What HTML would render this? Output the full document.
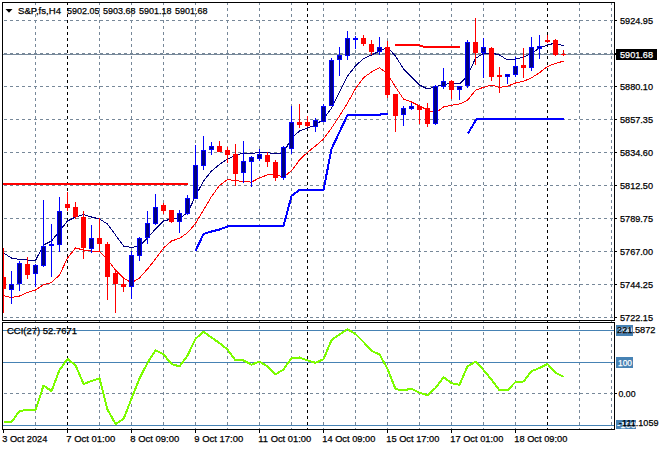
<!DOCTYPE html>
<html><head><meta charset="utf-8"><style>
html,body{margin:0;padding:0;background:#fff;width:660px;height:450px;overflow:hidden}
</style></head><body>
<svg width="660" height="450" viewBox="0 0 660 450" style="display:block">
<rect x="0" y="0" width="660" height="450" fill="#fff"/>
<line x1="4" y1="20.5" x2="614" y2="20.5" stroke="#778899" stroke-width="1" stroke-dasharray="3 3"/>
<line x1="4" y1="53.5" x2="614" y2="53.5" stroke="#778899" stroke-width="1" stroke-dasharray="3 3"/>
<line x1="4" y1="86.5" x2="614" y2="86.5" stroke="#778899" stroke-width="1" stroke-dasharray="3 3"/>
<line x1="4" y1="119.5" x2="614" y2="119.5" stroke="#778899" stroke-width="1" stroke-dasharray="3 3"/>
<line x1="4" y1="152.5" x2="614" y2="152.5" stroke="#778899" stroke-width="1" stroke-dasharray="3 3"/>
<line x1="4" y1="185.5" x2="614" y2="185.5" stroke="#778899" stroke-width="1" stroke-dasharray="3 3"/>
<line x1="4" y1="218.5" x2="614" y2="218.5" stroke="#778899" stroke-width="1" stroke-dasharray="3 3"/>
<line x1="4" y1="251.5" x2="614" y2="251.5" stroke="#778899" stroke-width="1" stroke-dasharray="3 3"/>
<line x1="4" y1="284.5" x2="614" y2="284.5" stroke="#778899" stroke-width="1" stroke-dasharray="3 3"/>
<line x1="4" y1="317.5" x2="614" y2="317.5" stroke="#778899" stroke-width="1" stroke-dasharray="3 3"/>
<line x1="35.5" y1="2" x2="35.5" y2="322" stroke="#778899" stroke-width="1" stroke-dasharray="3 3"/>
<line x1="99.5" y1="2" x2="99.5" y2="322" stroke="#778899" stroke-width="1" stroke-dasharray="3 3"/>
<line x1="131.5" y1="2" x2="131.5" y2="322" stroke="#778899" stroke-width="1" stroke-dasharray="3 3"/>
<line x1="163.5" y1="2" x2="163.5" y2="322" stroke="#778899" stroke-width="1" stroke-dasharray="3 3"/>
<line x1="195.5" y1="2" x2="195.5" y2="322" stroke="#778899" stroke-width="1" stroke-dasharray="3 3"/>
<line x1="227.5" y1="2" x2="227.5" y2="322" stroke="#778899" stroke-width="1" stroke-dasharray="3 3"/>
<line x1="259.5" y1="2" x2="259.5" y2="322" stroke="#778899" stroke-width="1" stroke-dasharray="3 3"/>
<line x1="291.5" y1="2" x2="291.5" y2="322" stroke="#778899" stroke-width="1" stroke-dasharray="3 3"/>
<line x1="323.5" y1="2" x2="323.5" y2="322" stroke="#778899" stroke-width="1" stroke-dasharray="3 3"/>
<line x1="355.5" y1="2" x2="355.5" y2="322" stroke="#778899" stroke-width="1" stroke-dasharray="3 3"/>
<line x1="387.5" y1="2" x2="387.5" y2="322" stroke="#778899" stroke-width="1" stroke-dasharray="3 3"/>
<line x1="419.5" y1="2" x2="419.5" y2="322" stroke="#778899" stroke-width="1" stroke-dasharray="3 3"/>
<line x1="451.5" y1="2" x2="451.5" y2="322" stroke="#778899" stroke-width="1" stroke-dasharray="3 3"/>
<line x1="483.5" y1="2" x2="483.5" y2="322" stroke="#778899" stroke-width="1" stroke-dasharray="3 3"/>
<line x1="515.5" y1="2" x2="515.5" y2="322" stroke="#778899" stroke-width="1" stroke-dasharray="3 3"/>
<line x1="579.5" y1="2" x2="579.5" y2="322" stroke="#778899" stroke-width="1" stroke-dasharray="3 3"/>
<line x1="611.5" y1="2" x2="611.5" y2="322" stroke="#778899" stroke-width="1" stroke-dasharray="3 3"/>
<line x1="67.5" y1="2" x2="67.5" y2="322" stroke="#000" stroke-width="1" stroke-dasharray="3 3"/>
<line x1="307.5" y1="2" x2="307.5" y2="322" stroke="#000" stroke-width="1" stroke-dasharray="3 3"/>
<line x1="547.5" y1="2" x2="547.5" y2="322" stroke="#000" stroke-width="1" stroke-dasharray="3 3"/>
<line x1="4" y1="393.5" x2="614" y2="393.5" stroke="#778899" stroke-width="1" stroke-dasharray="3 3"/>
<line x1="35.5" y1="326" x2="35.5" y2="429" stroke="#778899" stroke-width="1" stroke-dasharray="3 3"/>
<line x1="99.5" y1="326" x2="99.5" y2="429" stroke="#778899" stroke-width="1" stroke-dasharray="3 3"/>
<line x1="131.5" y1="326" x2="131.5" y2="429" stroke="#778899" stroke-width="1" stroke-dasharray="3 3"/>
<line x1="163.5" y1="326" x2="163.5" y2="429" stroke="#778899" stroke-width="1" stroke-dasharray="3 3"/>
<line x1="195.5" y1="326" x2="195.5" y2="429" stroke="#778899" stroke-width="1" stroke-dasharray="3 3"/>
<line x1="227.5" y1="326" x2="227.5" y2="429" stroke="#778899" stroke-width="1" stroke-dasharray="3 3"/>
<line x1="259.5" y1="326" x2="259.5" y2="429" stroke="#778899" stroke-width="1" stroke-dasharray="3 3"/>
<line x1="291.5" y1="326" x2="291.5" y2="429" stroke="#778899" stroke-width="1" stroke-dasharray="3 3"/>
<line x1="323.5" y1="326" x2="323.5" y2="429" stroke="#778899" stroke-width="1" stroke-dasharray="3 3"/>
<line x1="355.5" y1="326" x2="355.5" y2="429" stroke="#778899" stroke-width="1" stroke-dasharray="3 3"/>
<line x1="387.5" y1="326" x2="387.5" y2="429" stroke="#778899" stroke-width="1" stroke-dasharray="3 3"/>
<line x1="419.5" y1="326" x2="419.5" y2="429" stroke="#778899" stroke-width="1" stroke-dasharray="3 3"/>
<line x1="451.5" y1="326" x2="451.5" y2="429" stroke="#778899" stroke-width="1" stroke-dasharray="3 3"/>
<line x1="483.5" y1="326" x2="483.5" y2="429" stroke="#778899" stroke-width="1" stroke-dasharray="3 3"/>
<line x1="515.5" y1="326" x2="515.5" y2="429" stroke="#778899" stroke-width="1" stroke-dasharray="3 3"/>
<line x1="579.5" y1="326" x2="579.5" y2="429" stroke="#778899" stroke-width="1" stroke-dasharray="3 3"/>
<line x1="611.5" y1="326" x2="611.5" y2="429" stroke="#778899" stroke-width="1" stroke-dasharray="3 3"/>
<line x1="67.5" y1="326" x2="67.5" y2="429" stroke="#000" stroke-width="1" stroke-dasharray="3 3"/>
<line x1="307.5" y1="326" x2="307.5" y2="429" stroke="#000" stroke-width="1" stroke-dasharray="3 3"/>
<line x1="547.5" y1="326" x2="547.5" y2="429" stroke="#000" stroke-width="1" stroke-dasharray="3 3"/>
<rect x="3" y="330" width="611" height="1" fill="#4682B4"/>
<rect x="3" y="362" width="611" height="1" fill="#4682B4"/>
<rect x="3" y="425" width="611" height="1" fill="#4682B4"/>
<rect x="3" y="54" width="611" height="1" fill="#778899"/>
<rect x="3" y="183" width="185" height="2" fill="#f00"/>
<rect x="395" y="44" width="25" height="2" fill="#f00"/>
<rect x="420" y="45" width="3" height="2" fill="#f00"/>
<rect x="423" y="46" width="37" height="2" fill="#f00"/>
<g clip-path="url(#mainclip)">
<polyline points="3.5,253.0 11.5,258.0 19.5,259.5 27.5,260.0 35.5,260.5 43.5,245.0 51.5,241.0 59.5,231.0 67.5,221.0 75.5,217.0 83.5,214.5 91.5,217.0 99.5,219.0 107.5,224.0 115.5,235.0 123.5,246.0 131.5,247.5 139.5,246.0 147.5,238.0 155.5,229.0 163.5,221.0 171.5,219.0 179.5,218.0 187.5,213.0 195.5,196.0 203.5,181.0 211.5,171.0 219.5,164.5 227.5,159.0 235.5,155.5 243.5,153.0 251.5,153.5 259.5,152.5 267.5,152.5 275.5,154.0 283.5,153.0 291.5,138.0 299.5,131.0 307.5,128.0 315.5,125.0 323.5,119.0 331.5,108.0 339.5,92.0 347.5,76.0 355.5,66.0 363.5,58.5 371.5,55.0 379.5,51.0 387.5,47.5 395.5,56.0 403.5,69.0 411.5,77.0 419.5,85.0 427.5,89.0 435.5,86.5 443.5,85.0 451.5,82.5 459.5,84.0 467.5,75.8 475.5,58.4 483.5,53.4 491.5,53.0 499.5,55.0 507.5,60.0 515.5,59.0 523.5,57.3 531.5,53.2 539.5,48.2 547.5,44.9 555.5,43.1 563.5,45.7" fill="none" stroke="#000080" stroke-width="1" stroke-linejoin="round" shape-rendering="crispEdges"/>
<polyline points="3.5,295.5 11.5,297.6 19.5,296.0 27.5,292.5 35.5,290.0 43.5,284.6 51.5,282.5 59.5,275.0 67.5,258.0 75.5,248.0 83.5,250.0 91.5,251.0 99.5,251.5 107.5,259.5 115.5,270.2 123.5,278.0 131.5,282.7 139.5,278.0 147.5,269.0 155.5,259.0 163.5,248.0 171.5,241.0 179.5,238.3 187.5,232.8 195.5,223.5 203.5,210.0 211.5,196.5 219.5,185.5 227.5,179.5 235.5,180.7 243.5,181.4 251.5,182.1 259.5,177.8 267.5,174.9 275.5,174.6 283.5,177.0 291.5,170.8 299.5,160.0 307.5,152.3 315.5,146.0 323.5,139.0 331.5,128.0 339.5,116.0 347.5,103.0 355.5,88.6 363.5,77.7 371.5,72.0 379.5,67.6 387.5,74.0 395.5,87.0 403.5,99.0 411.5,102.0 419.5,106.0 427.5,110.0 435.5,113.0 443.5,107.0 451.5,105.2 459.5,104.0 467.5,100.3 475.5,90.2 483.5,87.3 491.5,85.2 499.5,87.3 507.5,86.2 515.5,83.0 523.5,81.4 531.5,77.8 539.5,72.7 547.5,66.5 555.5,63.4 563.5,61.2" fill="none" stroke="#f00" stroke-width="1" stroke-linejoin="round" shape-rendering="crispEdges"/>
<polyline points="195.5,251.0 203.5,234.0 209.5,232.0 219.5,229.5 227.5,226.5 283.5,226.0 291.5,196.0 299.5,190.0 323.5,190.0 331.5,149.0 347.5,115.0 379.5,115.0 381.5,114.0 387.5,114.0" fill="none" stroke="#00f" stroke-width="2" stroke-linejoin="round" shape-rendering="crispEdges"/>
<polyline points="468.0,133.5 476.5,119.0 564.0,119.0" fill="none" stroke="#00f" stroke-width="2" stroke-linejoin="round" shape-rendering="crispEdges"/>
<rect x="3" y="248" width="1" height="65" fill="#f00"/>
<rect x="1" y="277" width="5" height="12" fill="#f00"/>
<rect x="11" y="271" width="1" height="33" fill="#00f"/>
<rect x="9" y="284" width="5" height="6" fill="#00f"/>
<rect x="10" y="285" width="3" height="4" fill="#000080"/>
<rect x="19" y="261" width="1" height="30" fill="#00f"/>
<rect x="17" y="263" width="5" height="21" fill="#00f"/>
<rect x="18" y="264" width="3" height="19" fill="#000080"/>
<rect x="27" y="257" width="1" height="22" fill="#f00"/>
<rect x="25" y="264" width="5" height="11" fill="#f00"/>
<rect x="35" y="264" width="1" height="23" fill="#00f"/>
<rect x="33" y="265" width="5" height="9" fill="#00f"/>
<rect x="34" y="266" width="3" height="7" fill="#000080"/>
<rect x="43" y="200" width="1" height="67" fill="#00f"/>
<rect x="41" y="246" width="5" height="20" fill="#00f"/>
<rect x="42" y="247" width="3" height="18" fill="#000080"/>
<rect x="51" y="224" width="1" height="53" fill="#00f"/>
<rect x="49" y="244" width="5" height="2" fill="#00f"/>
<rect x="59" y="197" width="1" height="55" fill="#00f"/>
<rect x="57" y="211" width="5" height="34" fill="#00f"/>
<rect x="58" y="212" width="3" height="32" fill="#000080"/>
<rect x="67" y="192" width="1" height="19" fill="#f00"/>
<rect x="65" y="204" width="5" height="4" fill="#f00"/>
<rect x="75" y="202" width="1" height="17" fill="#f00"/>
<rect x="73" y="207" width="5" height="10" fill="#f00"/>
<rect x="83" y="211" width="1" height="48" fill="#f00"/>
<rect x="81" y="217" width="5" height="31" fill="#f00"/>
<rect x="91" y="225" width="1" height="28" fill="#00f"/>
<rect x="89" y="238" width="5" height="11" fill="#00f"/>
<rect x="90" y="239" width="3" height="9" fill="#000080"/>
<rect x="99" y="218" width="1" height="34" fill="#f00"/>
<rect x="97" y="238" width="5" height="6" fill="#f00"/>
<rect x="107" y="242" width="1" height="58" fill="#f00"/>
<rect x="105" y="244" width="5" height="33" fill="#f00"/>
<rect x="115" y="270" width="1" height="43" fill="#f00"/>
<rect x="113" y="273" width="5" height="11" fill="#f00"/>
<rect x="123" y="279" width="1" height="13" fill="#f00"/>
<rect x="121" y="284" width="5" height="3" fill="#f00"/>
<rect x="131" y="251" width="1" height="48" fill="#00f"/>
<rect x="129" y="255" width="5" height="32" fill="#00f"/>
<rect x="130" y="256" width="3" height="30" fill="#000080"/>
<rect x="139" y="237" width="1" height="24" fill="#00f"/>
<rect x="137" y="238" width="5" height="18" fill="#00f"/>
<rect x="138" y="239" width="3" height="16" fill="#000080"/>
<rect x="147" y="211" width="1" height="33" fill="#00f"/>
<rect x="145" y="223" width="5" height="15" fill="#00f"/>
<rect x="146" y="224" width="3" height="13" fill="#000080"/>
<rect x="155" y="194" width="1" height="31" fill="#00f"/>
<rect x="153" y="207" width="5" height="17" fill="#00f"/>
<rect x="154" y="208" width="3" height="15" fill="#000080"/>
<rect x="163" y="203" width="1" height="11" fill="#f00"/>
<rect x="161" y="205" width="5" height="6" fill="#f00"/>
<rect x="171" y="210" width="1" height="13" fill="#f00"/>
<rect x="169" y="210" width="5" height="12" fill="#f00"/>
<rect x="179" y="210" width="1" height="23" fill="#00f"/>
<rect x="177" y="213" width="5" height="9" fill="#00f"/>
<rect x="178" y="214" width="3" height="7" fill="#000080"/>
<rect x="187" y="195" width="1" height="20" fill="#00f"/>
<rect x="185" y="198" width="5" height="16" fill="#00f"/>
<rect x="186" y="199" width="3" height="14" fill="#000080"/>
<rect x="195" y="145" width="1" height="54" fill="#00f"/>
<rect x="193" y="165" width="5" height="34" fill="#00f"/>
<rect x="194" y="166" width="3" height="32" fill="#000080"/>
<rect x="203" y="136" width="1" height="34" fill="#00f"/>
<rect x="201" y="150" width="5" height="16" fill="#00f"/>
<rect x="202" y="151" width="3" height="14" fill="#000080"/>
<rect x="211" y="142" width="1" height="13" fill="#00f"/>
<rect x="209" y="146" width="5" height="4" fill="#00f"/>
<rect x="210" y="147" width="3" height="2" fill="#000080"/>
<rect x="219" y="141" width="1" height="11" fill="#f00"/>
<rect x="217" y="146" width="5" height="6" fill="#f00"/>
<rect x="227" y="147" width="1" height="16" fill="#f00"/>
<rect x="225" y="150" width="5" height="5" fill="#f00"/>
<rect x="235" y="144" width="1" height="42" fill="#f00"/>
<rect x="233" y="154" width="5" height="20" fill="#f00"/>
<rect x="243" y="141" width="1" height="42" fill="#00f"/>
<rect x="241" y="161" width="5" height="12" fill="#00f"/>
<rect x="242" y="162" width="3" height="10" fill="#000080"/>
<rect x="251" y="156" width="1" height="31" fill="#00f"/>
<rect x="249" y="157" width="5" height="5" fill="#00f"/>
<rect x="250" y="158" width="3" height="3" fill="#000080"/>
<rect x="259" y="149" width="1" height="12" fill="#00f"/>
<rect x="257" y="154" width="5" height="5" fill="#00f"/>
<rect x="258" y="155" width="3" height="3" fill="#000080"/>
<rect x="267" y="152" width="1" height="15" fill="#f00"/>
<rect x="265" y="155" width="5" height="7" fill="#f00"/>
<rect x="275" y="160" width="1" height="21" fill="#f00"/>
<rect x="273" y="162" width="5" height="16" fill="#f00"/>
<rect x="283" y="146" width="1" height="34" fill="#00f"/>
<rect x="281" y="147" width="5" height="31" fill="#00f"/>
<rect x="282" y="148" width="3" height="29" fill="#000080"/>
<rect x="291" y="106" width="1" height="48" fill="#00f"/>
<rect x="289" y="122" width="5" height="27" fill="#00f"/>
<rect x="290" y="123" width="3" height="25" fill="#000080"/>
<rect x="299" y="104" width="1" height="24" fill="#f00"/>
<rect x="297" y="122" width="5" height="3" fill="#f00"/>
<rect x="307" y="116" width="1" height="11" fill="#f00"/>
<rect x="305" y="122" width="5" height="4" fill="#f00"/>
<rect x="315" y="118" width="1" height="14" fill="#00f"/>
<rect x="313" y="120" width="5" height="7" fill="#00f"/>
<rect x="314" y="121" width="3" height="5" fill="#000080"/>
<rect x="323" y="104" width="1" height="18" fill="#00f"/>
<rect x="321" y="106" width="5" height="16" fill="#00f"/>
<rect x="322" y="107" width="3" height="14" fill="#000080"/>
<rect x="331" y="58" width="1" height="48" fill="#00f"/>
<rect x="329" y="60" width="5" height="46" fill="#00f"/>
<rect x="330" y="61" width="3" height="44" fill="#000080"/>
<rect x="339" y="47" width="1" height="29" fill="#00f"/>
<rect x="337" y="55" width="5" height="5" fill="#00f"/>
<rect x="338" y="56" width="3" height="3" fill="#000080"/>
<rect x="347" y="31" width="1" height="29" fill="#00f"/>
<rect x="345" y="38" width="5" height="18" fill="#00f"/>
<rect x="346" y="39" width="3" height="16" fill="#000080"/>
<rect x="355" y="36" width="1" height="13" fill="#00f"/>
<rect x="353" y="38" width="5" height="2" fill="#00f"/>
<rect x="363" y="35" width="1" height="11" fill="#f00"/>
<rect x="361" y="38" width="5" height="6" fill="#f00"/>
<rect x="371" y="40" width="1" height="15" fill="#f00"/>
<rect x="369" y="44" width="5" height="8" fill="#f00"/>
<rect x="379" y="37" width="1" height="18" fill="#00f"/>
<rect x="377" y="47" width="5" height="5" fill="#00f"/>
<rect x="378" y="48" width="3" height="3" fill="#000080"/>
<rect x="387" y="41" width="1" height="57" fill="#f00"/>
<rect x="385" y="47" width="5" height="48" fill="#f00"/>
<rect x="395" y="94" width="1" height="38" fill="#f00"/>
<rect x="393" y="94" width="5" height="22" fill="#f00"/>
<rect x="403" y="106" width="1" height="20" fill="#00f"/>
<rect x="401" y="108" width="5" height="7" fill="#00f"/>
<rect x="402" y="109" width="3" height="5" fill="#000080"/>
<rect x="411" y="103" width="1" height="7" fill="#00f"/>
<rect x="409" y="106" width="5" height="3" fill="#00f"/>
<rect x="410" y="107" width="3" height="1" fill="#000080"/>
<rect x="419" y="105" width="1" height="19" fill="#f00"/>
<rect x="417" y="106" width="5" height="4" fill="#f00"/>
<rect x="427" y="103" width="1" height="24" fill="#f00"/>
<rect x="425" y="108" width="5" height="16" fill="#f00"/>
<rect x="435" y="85" width="1" height="40" fill="#00f"/>
<rect x="433" y="86" width="5" height="38" fill="#00f"/>
<rect x="434" y="87" width="3" height="36" fill="#000080"/>
<rect x="443" y="68" width="1" height="21" fill="#00f"/>
<rect x="441" y="81" width="5" height="6" fill="#00f"/>
<rect x="442" y="82" width="3" height="4" fill="#000080"/>
<rect x="451" y="80" width="1" height="19" fill="#f00"/>
<rect x="449" y="81" width="5" height="9" fill="#f00"/>
<rect x="459" y="86" width="1" height="14" fill="#00f"/>
<rect x="457" y="86" width="5" height="4" fill="#00f"/>
<rect x="458" y="87" width="3" height="2" fill="#000080"/>
<rect x="467" y="40" width="1" height="48" fill="#00f"/>
<rect x="465" y="42" width="5" height="44" fill="#00f"/>
<rect x="466" y="43" width="3" height="42" fill="#000080"/>
<rect x="475" y="18" width="1" height="47" fill="#f00"/>
<rect x="473" y="42" width="5" height="11" fill="#f00"/>
<rect x="483" y="38" width="1" height="40" fill="#00f"/>
<rect x="481" y="47" width="5" height="6" fill="#00f"/>
<rect x="482" y="48" width="3" height="4" fill="#000080"/>
<rect x="491" y="47" width="1" height="34" fill="#f00"/>
<rect x="489" y="48" width="5" height="29" fill="#f00"/>
<rect x="499" y="67" width="1" height="26" fill="#f00"/>
<rect x="497" y="75" width="5" height="2" fill="#f00"/>
<rect x="507" y="74" width="1" height="10" fill="#00f"/>
<rect x="505" y="74" width="5" height="3" fill="#00f"/>
<rect x="506" y="75" width="3" height="1" fill="#000080"/>
<rect x="515" y="57" width="1" height="20" fill="#00f"/>
<rect x="513" y="66" width="5" height="9" fill="#00f"/>
<rect x="514" y="67" width="3" height="7" fill="#000080"/>
<rect x="523" y="48" width="1" height="30" fill="#f00"/>
<rect x="521" y="65" width="5" height="3" fill="#f00"/>
<rect x="531" y="37" width="1" height="34" fill="#00f"/>
<rect x="529" y="47" width="5" height="21" fill="#00f"/>
<rect x="530" y="48" width="3" height="19" fill="#000080"/>
<rect x="539" y="35" width="1" height="24" fill="#00f"/>
<rect x="537" y="46" width="5" height="3" fill="#00f"/>
<rect x="538" y="47" width="3" height="1" fill="#000080"/>
<rect x="547" y="35" width="1" height="8" fill="#f00"/>
<rect x="545" y="40" width="5" height="2" fill="#f00"/>
<rect x="555" y="39" width="1" height="17" fill="#f00"/>
<rect x="553" y="40" width="5" height="15" fill="#f00"/>
<rect x="563" y="50" width="1" height="6" fill="#f00"/>
<rect x="561" y="54" width="5" height="1" fill="#f00"/>
</g>
<g clip-path="url(#indclip)">
<polyline points="3.5,422.0 11.5,422.0 19.5,411.0 27.5,410.0 35.5,410.0 43.5,385.6 51.5,391.0 59.5,370.0 67.5,359.0 75.5,365.0 83.5,384.0 91.5,381.0 99.5,378.4 107.5,409.5 115.5,424.0 123.5,419.0 131.5,398.7 139.5,378.4 147.5,363.0 155.5,350.3 163.5,354.4 171.5,364.0 179.5,366.4 187.5,355.6 195.5,338.8 203.5,331.6 211.5,337.6 219.5,343.0 227.5,349.6 235.5,360.4 243.5,360.4 251.5,364.7 259.5,361.6 267.5,366.4 275.5,374.3 283.5,369.5 291.5,358.0 299.5,357.5 307.5,360.4 315.5,362.8 323.5,359.2 331.5,340.0 339.5,334.5 347.5,329.2 355.5,334.0 363.5,342.0 371.5,350.8 379.5,354.4 387.5,368.8 395.5,389.1 403.5,390.3 411.5,388.7 419.5,392.7 427.5,395.1 435.5,388.0 443.5,377.2 451.5,383.2 459.5,384.8 467.5,366.4 475.5,361.6 483.5,370.0 491.5,379.6 499.5,390.3 507.5,390.3 515.5,382.0 523.5,381.5 531.5,371.2 539.5,368.0 547.5,364.0 555.5,372.8 563.5,376.7" fill="none" stroke="#7CFC00" stroke-width="2" stroke-linejoin="round" shape-rendering="crispEdges"/>
</g>
<defs><clipPath id="mainclip"><rect x="3" y="3" width="611" height="317"/></clipPath><clipPath id="indclip"><rect x="3" y="323" width="611" height="106"/></clipPath></defs>
<rect x="2.5" y="2.5" width="612" height="318" fill="none" stroke="#000" stroke-width="1"/>
<rect x="2.5" y="322.5" width="612" height="107" fill="none" stroke="#000" stroke-width="1"/>
<path d="M5.5 9 L12.5 9 L9 12.8 Z" fill="#000"/>
<text x="18" y="14" font-family="Liberation Sans" font-size="9.6" fill="#000" stroke="#000" stroke-width="0.25" textLength="43" lengthAdjust="spacingAndGlyphs">S&amp;P,fs,H4</text>
<text x="67" y="14" font-family="Liberation Sans" font-size="9.6" fill="#000" stroke="#000" stroke-width="0.25" textLength="32.5" lengthAdjust="spacingAndGlyphs">5902.05</text>
<text x="103" y="14" font-family="Liberation Sans" font-size="9.6" fill="#000" stroke="#000" stroke-width="0.25" textLength="32.5" lengthAdjust="spacingAndGlyphs">5903.68</text>
<text x="139" y="14" font-family="Liberation Sans" font-size="9.6" fill="#000" stroke="#000" stroke-width="0.25" textLength="32.5" lengthAdjust="spacingAndGlyphs">5901.18</text>
<text x="175" y="14" font-family="Liberation Sans" font-size="9.6" fill="#000" stroke="#000" stroke-width="0.25" textLength="32.5" lengthAdjust="spacingAndGlyphs">5901.68</text>
<text x="7" y="334" font-family="Liberation Sans" font-size="9.6" fill="#000" stroke="#000" stroke-width="0.25" textLength="70" lengthAdjust="spacingAndGlyphs">CCI(27) 52.7671</text>
<rect x="615" y="20" width="2" height="1" fill="#000"/>
<text x="620" y="24" font-family="Liberation Sans" font-size="9.6" fill="#000" stroke="#000" stroke-width="0.25" textLength="33" lengthAdjust="spacingAndGlyphs">5924.95</text>
<rect x="615" y="53" width="2" height="1" fill="#000"/>
<rect x="615" y="86" width="2" height="1" fill="#000"/>
<text x="620" y="90" font-family="Liberation Sans" font-size="9.6" fill="#000" stroke="#000" stroke-width="0.25" textLength="33" lengthAdjust="spacingAndGlyphs">5880.10</text>
<rect x="615" y="119" width="2" height="1" fill="#000"/>
<text x="620" y="123" font-family="Liberation Sans" font-size="9.6" fill="#000" stroke="#000" stroke-width="0.25" textLength="33" lengthAdjust="spacingAndGlyphs">5857.35</text>
<rect x="615" y="152" width="2" height="1" fill="#000"/>
<text x="620" y="156" font-family="Liberation Sans" font-size="9.6" fill="#000" stroke="#000" stroke-width="0.25" textLength="33" lengthAdjust="spacingAndGlyphs">5834.60</text>
<rect x="615" y="185" width="2" height="1" fill="#000"/>
<text x="620" y="189" font-family="Liberation Sans" font-size="9.6" fill="#000" stroke="#000" stroke-width="0.25" textLength="33" lengthAdjust="spacingAndGlyphs">5812.50</text>
<rect x="615" y="218" width="2" height="1" fill="#000"/>
<text x="620" y="222" font-family="Liberation Sans" font-size="9.6" fill="#000" stroke="#000" stroke-width="0.25" textLength="33" lengthAdjust="spacingAndGlyphs">5789.75</text>
<rect x="615" y="251" width="2" height="1" fill="#000"/>
<text x="620" y="255" font-family="Liberation Sans" font-size="9.6" fill="#000" stroke="#000" stroke-width="0.25" textLength="33" lengthAdjust="spacingAndGlyphs">5767.00</text>
<rect x="615" y="284" width="2" height="1" fill="#000"/>
<text x="620" y="288" font-family="Liberation Sans" font-size="9.6" fill="#000" stroke="#000" stroke-width="0.25" textLength="33" lengthAdjust="spacingAndGlyphs">5744.25</text>
<rect x="615" y="317" width="2" height="1" fill="#000"/>
<text x="620" y="321" font-family="Liberation Sans" font-size="9.6" fill="#000" stroke="#000" stroke-width="0.25" textLength="33" lengthAdjust="spacingAndGlyphs">5722.15</text>
<rect x="616" y="49" width="41" height="11" fill="#000"/>
<rect x="615" y="54" width="2" height="1" fill="#000"/>
<text x="620" y="58" font-family="Liberation Sans" font-size="9.6" fill="#fff" stroke="#fff" stroke-width="0.25" textLength="33" lengthAdjust="spacingAndGlyphs">5901.68</text>
<rect x="616" y="325" width="17" height="11" fill="#4682B4"/>
<text x="618" y="333.3" font-family="Liberation Sans" font-size="9.6" fill="#fff" stroke="#fff" stroke-width="0.25" textLength="14" lengthAdjust="spacingAndGlyphs">200</text>
<text x="617" y="333.3" font-family="Liberation Sans" font-size="9.6" fill="#000" stroke="#000" stroke-width="0.25" textLength="38.5" lengthAdjust="spacingAndGlyphs">221.5872</text>
<rect x="616" y="357" width="17" height="11" fill="#4682B4"/>
<text x="618" y="366" font-family="Liberation Sans" font-size="9.6" fill="#fff" stroke="#fff" stroke-width="0.25" textLength="14" lengthAdjust="spacingAndGlyphs">100</text>
<rect x="615" y="393" width="2" height="1" fill="#000"/>
<text x="618.5" y="396.5" font-family="Liberation Sans" font-size="9.6" fill="#000" stroke="#000" stroke-width="0.25" textLength="17" lengthAdjust="spacingAndGlyphs">0.00</text>
<rect x="616" y="420" width="20" height="9" fill="#4682B4"/>
<text x="617" y="428" font-family="Liberation Sans" font-size="9.6" fill="#fff" stroke="#fff" stroke-width="0.25" textLength="19" lengthAdjust="spacingAndGlyphs">-100</text>
<text x="619" y="426" font-family="Liberation Sans" font-size="9.6" fill="#000" stroke="#000" stroke-width="0.25" textLength="39.5" lengthAdjust="spacingAndGlyphs">-111.1059</text>
<rect x="3" y="430" width="1" height="3" fill="#000"/>
<text x="2.3" y="442" font-family="Liberation Sans" font-size="9.6" fill="#000" stroke="#000" stroke-width="0.25" textLength="45" lengthAdjust="spacingAndGlyphs">3 Oct 2024</text>
<rect x="67" y="430" width="1" height="3" fill="#000"/>
<text x="66.3" y="442" font-family="Liberation Sans" font-size="9.6" fill="#000" stroke="#000" stroke-width="0.25" textLength="49" lengthAdjust="spacingAndGlyphs">7 Oct 01:00</text>
<rect x="131" y="430" width="1" height="3" fill="#000"/>
<text x="130.3" y="442" font-family="Liberation Sans" font-size="9.6" fill="#000" stroke="#000" stroke-width="0.25" textLength="49" lengthAdjust="spacingAndGlyphs">8 Oct 09:00</text>
<rect x="195" y="430" width="1" height="3" fill="#000"/>
<text x="194.3" y="442" font-family="Liberation Sans" font-size="9.6" fill="#000" stroke="#000" stroke-width="0.25" textLength="49" lengthAdjust="spacingAndGlyphs">9 Oct 17:00</text>
<rect x="259" y="430" width="1" height="3" fill="#000"/>
<text x="258.3" y="442" font-family="Liberation Sans" font-size="9.6" fill="#000" stroke="#000" stroke-width="0.25" textLength="53" lengthAdjust="spacingAndGlyphs">11 Oct 01:00</text>
<rect x="323" y="430" width="1" height="3" fill="#000"/>
<text x="322.3" y="442" font-family="Liberation Sans" font-size="9.6" fill="#000" stroke="#000" stroke-width="0.25" textLength="53" lengthAdjust="spacingAndGlyphs">14 Oct 09:00</text>
<rect x="387" y="430" width="1" height="3" fill="#000"/>
<text x="386.3" y="442" font-family="Liberation Sans" font-size="9.6" fill="#000" stroke="#000" stroke-width="0.25" textLength="53" lengthAdjust="spacingAndGlyphs">15 Oct 17:00</text>
<rect x="451" y="430" width="1" height="3" fill="#000"/>
<text x="450.3" y="442" font-family="Liberation Sans" font-size="9.6" fill="#000" stroke="#000" stroke-width="0.25" textLength="53" lengthAdjust="spacingAndGlyphs">17 Oct 01:00</text>
<rect x="515" y="430" width="1" height="3" fill="#000"/>
<text x="514.3" y="442" font-family="Liberation Sans" font-size="9.6" fill="#000" stroke="#000" stroke-width="0.25" textLength="53" lengthAdjust="spacingAndGlyphs">18 Oct 09:00</text>
</svg>
</body></html>
